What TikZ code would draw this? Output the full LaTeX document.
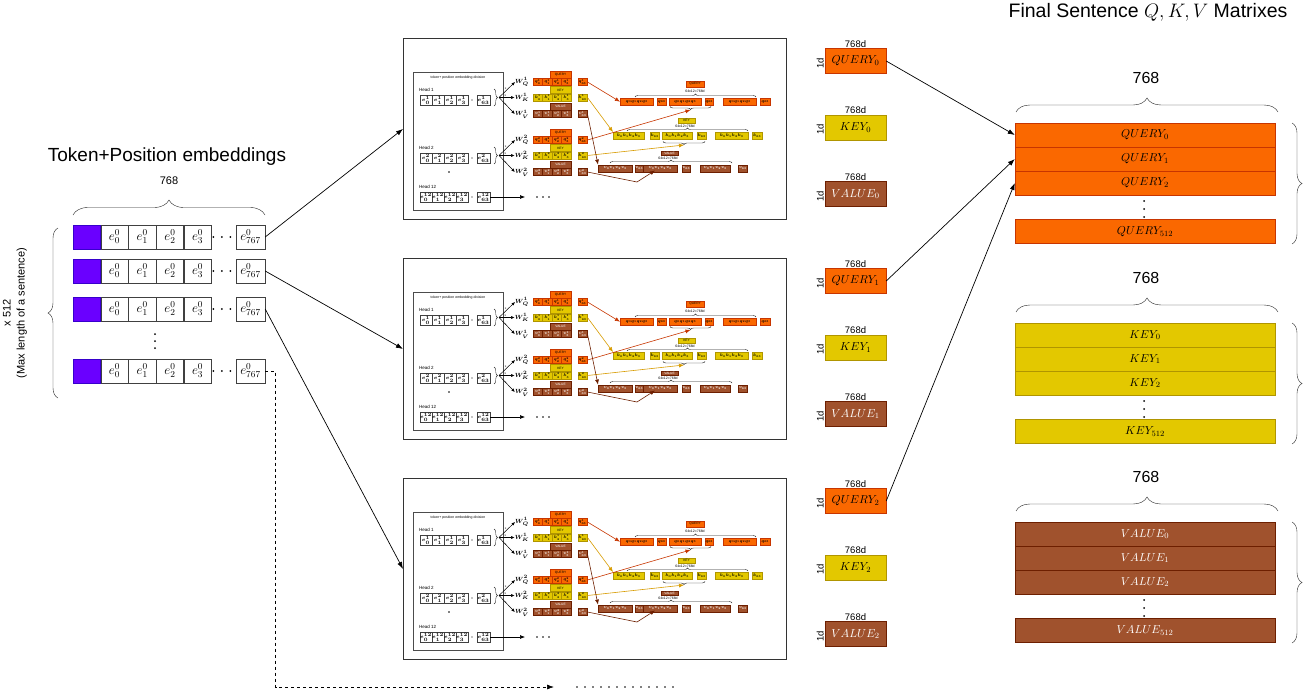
\documentclass[tikz,border=0pt]{standalone}
\usepackage{fix-cm}
\usepackage{fontspec}
\setmainfont{Liberation Sans}
\usetikzlibrary{positioning,arrows.meta,decorations.pathreplacing,calc}

\definecolor{qfill}{HTML}{FA6800}
\definecolor{qline}{HTML}{C73500}
\definecolor{kfill}{HTML}{E3C800}
\definecolor{kline}{HTML}{B09500}
\definecolor{vfill}{HTML}{A0522D}
\definecolor{vline}{HTML}{6D1F00}
\definecolor{pfill}{HTML}{6A00FF}
\definecolor{pline}{HTML}{3700CC}
\definecolor{karrow}{HTML}{D79B00}

\newcommand{\fsz}[1]{\fontsize{#1}{#1}\selectfont}

\tikzset{
  >=Latex,
  cell/.style={draw=black!75, fill=white, minimum width=27.3pt, minimum height=24pt, inner sep=0pt, font=\fsz{13}},
  tokcell/.style={cell, draw=pline, fill=pfill},
  frame/.style={draw=black!80, line width=0.9pt, minimum width=383pt, minimum height=181pt, anchor=north west, inner sep=0pt},
  divbox/.style={draw=black!70, line width=0.7pt, minimum width=90pt, minimum height=138pt, anchor=north west, inner sep=0pt},
  minitext/.style={font=\fsz{3.5}, inner sep=0pt},
  minicell/.style={draw=black!75, line width=0.6pt, fill=white, minimum width=12pt, minimum height=10pt, inner sep=0pt, font=\fsz{5}\boldmath},
  qmini/.style={draw=qline, fill=qfill, minimum width=9.5pt, minimum height=7pt, inner sep=0pt, font=\fsz{4}\boldmath},
  kmini/.style={qmini, draw=kline, fill=kfill},
  vmini/.style={qmini, draw=vline, fill=vfill, text=white},
  wlabel/.style={font=\fsz{6}\boldmath, inner sep=0pt},
  brc/.style={decorate, decoration={brace, amplitude=#1}, draw=black!85},
  miniarr/.style={line width=0.5pt, -{Latex[length=3.5pt, width=3pt]}},
  qarr/.style={draw=qline, line width=0.6pt, -{Latex[length=5pt, width=4pt]}},
  karr/.style={qarr, draw=karrow},
  varr/.style={qarr, draw=vline},
  mainarr/.style={line width=0.7pt, -{Latex[length=7pt, width=5pt]}},
  qbox/.style={draw=qline, fill=qfill, minimum width=61pt, minimum height=25pt, inner sep=0pt, font=\fsz{11.5},
    label={[font=\fsz{9.5}, inner sep=1pt]above:768d},
    label={[font=\fsz{9.5}, rotate=90, anchor=south, inner sep=1pt, label distance=2pt]west:1d}},
  kbox/.style={qbox, draw=kline, fill=kfill},
  vbox/.style={qbox, draw=vline, fill=vfill, text=white},
  qrow/.style={draw=qline, fill=qfill, minimum width=260pt, minimum height=24pt, inner sep=0pt, font=\fsz{11.5}},
  krow/.style={qrow, draw=kline, fill=kfill},
  vrow/.style={qrow, draw=vline, fill=vfill, text=white}
}

\begin{document}
\begin{tikzpicture}[x=1pt, y=-1pt]
  \useasboundingbox (0,0) rectangle (1306,696);

  % token + position embeddings
  \node[font=\fsz{19}] (toktitle) at (167,157) {Token+Position embeddings};
  \node[font=\fsz{11}] (tokdim) at (169,181) {768};
  \draw[brc=15pt] (73,215) -- (265,215);
  \foreach \r/\ry in {1/237,2/271,3/309,4/371} {
    \node[tokcell] (tok\r) at (86.8,\ry) {};
    \node[cell, right=0pt of tok\r] (e\r-0) {$e^0_0$};
    \foreach \c [count=\p from 0] in {1,2,3}
      \node[cell, right=0pt of e\r-\p] (e\r-\c) {$e^0_\c$};
    \node[cell, minimum width=29pt] (last\r) at (250.5,\ry) {$e^0_{767}$};
    \foreach \d in {2,10.5,19} \fill (e\r-3.east) ++(\d,0) circle (1pt);
  }
  \foreach \d in {334,341,348} \fill (155,\d) circle (1pt);
  \draw[brc=10pt] (58,398) -- (58,228);
  \node[font=\fontsize{11}{14}\selectfont, rotate=90, align=center] (rowcount) at (15,313)
    {x 512\\(Max length of a sentence)};

  % one head-division picture per token
  \foreach \bx in {0,1,2} {
  \begin{scope}[shift={(0,220*\bx)}]
    \node[frame] (box\bx) at (403,38) {};
    \node[divbox] (div\bx) at (413,72) {};
    \node[minitext] at (458,77.5) {token+ position embedding division};
    \foreach \h/\hy in {1/100,2/158,12/197} {
      \node[minitext, font=\fsz{4.5}, anchor=west] at (419,\hy-10.5) {Head \h};
      \foreach \c in {0,...,3}
        \node[minicell] (h\bx-\h-\c) at (426+12*\c,\hy) {$e^{\h}_{\c}$};
      \fill (472,\hy) circle (0.7pt);
      \node[minicell, minimum width=13pt] (hl\bx-\h) at (483.5,\hy) {$e^{\h}_{63}$};
    }
    \fill (449,172) circle (0.8pt);
    \coordinate (hend\bx) at (525,197);
    \draw[miniarr, line width=0.6pt, -{Latex[length=5pt, width=4pt]}] (hl\bx-12.east) -- (hend\bx);
    \foreach \d in {537,543,549} \fill (\d,197) circle (0.8pt);

    \foreach \h/\hy in {1/100,2/158} {
      \draw[brc=3.5pt] (494,\hy-11) -- (494,\hy+6);
      \coordinate (bt\bx-\h) at (499,\hy-2.5);
      \foreach \tp/\off/\st/\lab/\W in {q/-18/qmini/QUERY/Q, k/-2.5/kmini/KEY/K, v/14/vmini/VALUE/V} {
        \node[wlabel] (w\tp\bx-\h) at (522,\hy+\off) {$W^{\h}_{\W}$};
        \draw[miniarr] (bt\bx-\h) -- (w\tp\bx-\h.west)
          node[pos=0.5, font=\fsz{3}, inner sep=0.3pt, anchor=south east] {x};
        \foreach \c in {0,...,3}
          \node[\st] (c\tp\bx-\h-\c) at (537.75+9.5*\c,\hy+\off) {$\tp^{\h}_{\c}$};
        \node[\st, minimum width=21pt, font=\fsz{3.2}] at (560.5,\hy+\off-7.5) {\lab};
        \node[\st] (s\tp\bx-\h) at (582.5,\hy+\off) {$\tp^{\h}_{63}$};
      }
    }

    % concatenated heads
    \node[qmini, minimum width=18pt, minimum height=5.7pt, font=\fsz{3.2}] at (695,84) {QUERY};
    \node[minitext] at (695,91.5) {64x12=768d};
    \draw[brc=3pt] (635,97) -- (756,97);
    \foreach \x/\w [count=\n] in {620/33,657/9,669/32,705/8,723/33,760/10}
      \node[qmini, minimum width=\w*1pt, anchor=west] (qs\bx-\n) at (\x,101.7)
        {\ifodd\n$q_0q_1q_2q_3$\else$q_{63}$\fi};
    \draw[brc=3pt] (711,106.5) -- (670,106.5);
    \coordinate (qt\bx) at (690.5,110);

    \node[kmini, minimum width=17pt, minimum height=5.6pt, font=\fsz{3.2}] at (686.5,120.5) {KEY};
    \node[minitext] at (685,126.7) {64x12=768d};
    \draw[brc=3pt] (627,131) -- (748,131);
    \foreach \x/\w [count=\n] in {613/31,650/9,662/30,697/9,715/33,752/10}
      \node[kmini, minimum width=\w*1pt, anchor=west] (ks\bx-\n) at (\x,135.7)
        {\ifodd\n$k_0k_1k_2k_3$\else$k_{63}$\fi};
    \draw[brc=3pt] (705,141.5) -- (663,141.5);
    \coordinate (kt\bx) at (684,145);

    \node[vmini, minimum width=17pt, minimum height=4.7pt, font=\fsz{3.2}] at (669.5,153.3) {VALUE};
    \node[minitext] at (668,158.3) {64x12=768d};
    \draw[brc=3pt] (610,163) -- (732,163);
    \foreach \x/\w [count=\n] in {598/34,635/6,643/34,682/8,700/30,738/9}
      \node[vmini, minimum width=\w*1pt, anchor=west] (vs\bx-\n) at (\x,168.3)
        {\ifodd\n$v_0v_1v_2v_3$\else$v_{63}$\fi};
    \coordinate (vb\bx) at (637,182);
    \coordinate (vt\bx) at (655,170.5);

    \draw[qarr] (sq\bx-1.east) -- (qs\bx-1.west);
    \draw[qarr] (sq\bx-2.east) -- (qt\bx);
    \draw[karr] (sk\bx-1.east) -- (ks\bx-1.north west);
    \draw[karr] (sk\bx-2.east) -- (kt\bx);
    \draw[varr] (sv\bx-1.east) -- (vs\bx-1.north west);
    \draw[varr] (sv\bx-2.east) -- (vb\bx) -- (vt\bx);
  \end{scope}
  }

  \draw[mainarr] (last1.east) -- (box0.west);
  \draw[mainarr] (last2.east) -- (box1.west);
  \draw[mainarr] (last3.east) -- (box2.west);
  \coordinate (dashend) at (554,687);
  \draw[mainarr, dash pattern=on 3pt off 3pt] (last4.east) -- ++(10.5,0) |- (dashend);
  \foreach \d in {0,...,12} \fill (577+8*\d,687) circle (0.9pt);

  % per-token query, key, value vectors
  \foreach \g in {0,1,2} {
    \node[qbox] (Q\g) at (855.5,61+220*\g) {$QUERY_\g$};
    \node[kbox] (K\g) at (855.5,127.5+220*\g) {$KEY_\g$};
    \node[vbox] (V\g) at (855.5,194+220*\g) {$VALUE_\g$};
  }

  % final matrices
  \node[font=\fsz{19.5}] (final) at (1148,12) {Final Sentence $Q,K,V$ Matrixes};
  \foreach \m/\mtop/\st/\lab in {q/123/qrow/QUERY, k/323/krow/KEY, v/522/vrow/VALUE} {
    \node[font=\fsz{16}] at (1146,\mtop-45) {768};
    \draw[brc=14pt] (1016,\mtop-11) -- (1278,\mtop-11);
    \foreach \i in {0,1,2}
      \node[\st] (\m m\i) at (1145,\mtop+12+24*\i) {$\lab_\i$};
    \node[\st] (\m m512) at (1145,\mtop+108.5) {$\lab_{512}$};
    \foreach \d in {78,86,94} \fill (1144,\mtop+\d) circle (1pt);
    \draw[brc=10pt] (1292,\mtop) -- (1292,\mtop+121);
  }

  \draw[mainarr] (Q0.east) -- (qm0.west);
  \draw[mainarr] (Q1.east) -- (qm1.west);
  \draw[mainarr] (Q2.east) -- (qm2.west);
\end{tikzpicture}
\end{document}
